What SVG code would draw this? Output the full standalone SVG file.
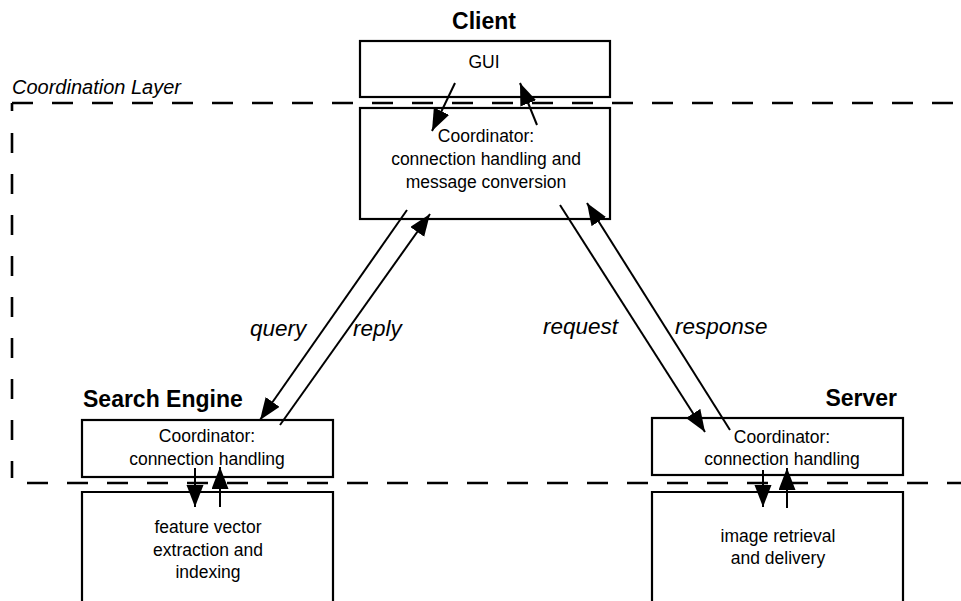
<svg xmlns="http://www.w3.org/2000/svg" width="961" height="601" viewBox="0 0 961 601">
<defs>
<style>
.box{fill:#fff;stroke:#000;stroke-width:2.2}
.open{fill:none;stroke:#000;stroke-width:2.2}
.dash{fill:none;stroke:#000;stroke-width:2.6;stroke-dasharray:21 19}
.t{font-family:"Liberation Sans",Arial,sans-serif;font-size:17.5px;text-anchor:middle;fill:#000}
.b{font-family:"Liberation Sans",Arial,sans-serif;font-size:23px;font-weight:bold;fill:#000}
.i{font-family:"Liberation Sans",Arial,sans-serif;font-size:22.5px;font-style:italic;fill:#000}
.c{stroke:#000;stroke-width:2;fill:none;marker-end:url(#ah)}
</style>
<marker id="ah" markerUnits="userSpaceOnUse" markerWidth="24" markerHeight="18" refX="22" refY="8.5" orient="auto">
<path d="M0,0 L22,8.5 L0,17 Z" fill="#000"/>
</marker>
</defs>
<rect width="961" height="601" fill="#fff"/>
<g id="layer">
<path class="dash" d="M12,103 H961"/>
<path class="dash" d="M12,111 V103" style="stroke-dasharray:none"/>
<path class="dash" d="M12,133 V478" style="stroke-dasharray:20 21"/>
<path class="dash" d="M27,483 H961"/>
<text class="i" x="12" y="94" style="font-size:20px">Coordination Layer</text>
</g>
<g id="client">
<text class="b" x="484" y="29" text-anchor="middle">Client</text>
<rect class="box" x="360" y="41" width="250" height="56"/>
<text class="t" x="484" y="68">GUI</text>
<rect class="box" x="360" y="108" width="250" height="111"/>
<text class="t" x="486" y="142">Coordinator:</text>
<text class="t" x="486" y="165">connection handling and</text>
<text class="t" x="486" y="188">message conversion</text>
</g>
<g id="search-engine">
<text class="b" x="83" y="407">Search Engine</text>
<rect class="box" x="82" y="420" width="251" height="57"/>
<text class="t" x="207" y="442">Coordinator:</text>
<text class="t" x="207" y="465">connection handling</text>
<path class="open" d="M82,601 V492 H333 V601"/>
<text class="t" x="208" y="533">feature vector</text>
<text class="t" x="208" y="556">extraction and</text>
<text class="t" x="208" y="578">indexing</text>
</g>
<g id="server">
<text class="b" x="897" y="406" text-anchor="end">Server</text>
<rect class="box" x="652" y="418" width="251" height="57"/>
<text class="t" x="782" y="443">Coordinator:</text>
<text class="t" x="782" y="465">connection handling</text>
<path class="open" d="M652,601 V492 H903 V601"/>
<text class="t" x="778" y="542">image retrieval</text>
<text class="t" x="778" y="564">and delivery</text>
</g>
<g id="connectors">
<line class="c" x1="455" y1="83" x2="432" y2="131"/>
<line class="c" x1="537" y1="125" x2="520" y2="83"/>
<line class="c" x1="407" y1="210" x2="260" y2="420"/>
<line class="c" x1="280" y1="425" x2="430" y2="214"/>
<line class="c" x1="560" y1="205" x2="705" y2="432"/>
<line class="c" x1="730" y1="430" x2="587" y2="203"/>
<line class="c" x1="195" y1="468" x2="195" y2="507"/>
<line class="c" x1="220" y1="507" x2="220" y2="467"/>
<line class="c" x1="763" y1="470" x2="763" y2="507"/>
<line class="c" x1="787" y1="508" x2="787" y2="468"/>
<text class="i" x="250" y="336">query</text>
<text class="i" x="353" y="336">reply</text>
<text class="i" x="543" y="334">request</text>
<text class="i" x="675" y="334">response</text>
</g>
</svg>
